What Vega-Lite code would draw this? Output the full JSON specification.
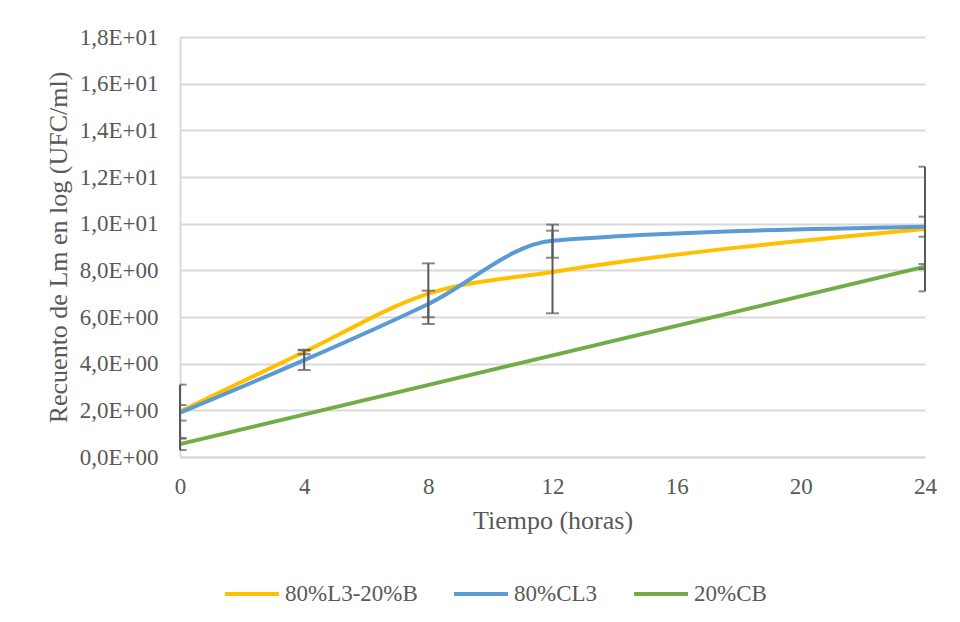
{
  "$schema": "https://vega.github.io/schema/vega-lite/v6.json",
  "width": 745,
  "height": 420,
  "autosize": {"type": "none"},
  "padding": {"left": 180, "top": 37, "right": 35, "bottom": 165},
  "background": "white",
  "config": {
    "view": {"stroke": null},
    "font": "Liberation Serif, Times New Roman, serif"
  },
  "data": {
    "values": [
      {"t": 0, "serie": "80%L3-20%B", "y": 1.95, "lo": 0.8, "hi": 3.1},
      {"t": 4, "serie": "80%L3-20%B", "y": 4.5, "lo": 4.4, "hi": 4.6},
      {"t": 8, "serie": "80%L3-20%B", "y": 7.0, "lo": 5.7, "hi": 8.3},
      {"t": 12, "serie": "80%L3-20%B", "y": 7.93, "lo": 6.16, "hi": 9.7},
      {"t": 24, "serie": "80%L3-20%B", "y": 9.77, "lo": 7.1, "hi": 12.44},
      {"t": 0, "serie": "80%CL3", "y": 1.9, "lo": 1.56, "hi": 2.23},
      {"t": 4, "serie": "80%CL3", "y": 4.15, "lo": 3.73, "hi": 4.57},
      {"t": 8, "serie": "80%CL3", "y": 6.56, "lo": 5.99, "hi": 7.13},
      {"t": 12, "serie": "80%CL3", "y": 9.27, "lo": 8.54, "hi": 9.96},
      {"t": 24, "serie": "80%CL3", "y": 9.87, "lo": 9.44, "hi": 10.3},
      {"t": 0, "serie": "20%CB", "y": 0.55, "lo": 0.3, "hi": 0.8},
      {"t": 24, "serie": "20%CB", "y": 8.16, "lo": 8.05, "hi": 8.27}
    ]
  },
  "encoding": {
    "x": {
      "field": "t", "type": "quantitative",
      "scale": {"domain": [0, 24], "nice": false},
      "axis": {
        "values": [0, 4, 8, 12, 16, 20, 24],
        "title": "Tiempo (horas)",
        "titleFont": "Liberation Serif", "titleFontSize": 26, "titleFontWeight": "normal", "titleColor": "#595959",
        "titlePadding": 9,
        "labelFont": "Liberation Serif", "labelFontSize": 23, "labelColor": "#595959", "labelPadding": 18,
        "labelFlush": false,
        "grid": false, "ticks": false,
        "domainColor": "#d9d9d9", "domainWidth": 2
      }
    },
    "y": {
      "type": "quantitative",
      "scale": {"domain": [0, 18], "nice": false},
      "axis": {
        "values": [0, 2, 4, 6, 8, 10, 12, 14, 16, 18],
        "title": "Recuento de Lm en log (UFC/ml)",
        "titleFont": "Liberation Serif", "titleFontSize": 26, "titleFontWeight": "normal", "titleColor": "#595959",
        "titlePadding": 8,
        "labelFont": "Liberation Serif", "labelFontSize": 23, "labelColor": "#595959", "labelPadding": 22,
        "labelFlush": false,
        "labelExpr": "datum.value < 10 ? replace(format(datum.value, '.1f'), '.', ',') + 'E+00' : replace(format(datum.value / 10, '.1f'), '.', ',') + 'E+01'",
        "grid": true, "gridColor": "#d9d9d9", "gridWidth": 2,
        "ticks": false,
        "domainColor": "#d9d9d9", "domainWidth": 2
      }
    }
  },
  "layer": [
    {
      "mark": {"type": "line", "interpolate": "monotone", "strokeWidth": 4},
      "encoding": {
        "y": {"field": "y"},
        "color": {
          "field": "serie", "type": "nominal",
          "scale": {"domain": ["80%L3-20%B", "80%CL3", "20%CB"], "range": ["#FFC000", "#5B9BD5", "#70AD47"]},
          "legend": {
            "title": null, "orient": "none", "direction": "horizontal",
            "legendX": 43, "legendY": 528,
            "symbolType": "stroke", "symbolStrokeWidth": 4, "symbolSize": 2900,
            "labelFont": "Liberation Serif", "labelFontSize": 23, "labelColor": "#595959",
            "labelOffset": 4, "columnPadding": 28
          }
        }
      }
    },
    {
      "mark": {"type": "rule", "color": "#595959", "strokeWidth": 2},
      "encoding": {"y": {"field": "lo"}, "y2": {"field": "hi"}}
    },
    {
      "mark": {"type": "tick", "orient": "horizontal", "color": "#595959", "thickness": 2, "size": 13, "clip": true},
      "encoding": {"y": {"field": "lo"}}
    },
    {
      "mark": {"type": "tick", "orient": "horizontal", "color": "#595959", "thickness": 2, "size": 13, "clip": true},
      "encoding": {"y": {"field": "hi"}}
    }
  ]
}
